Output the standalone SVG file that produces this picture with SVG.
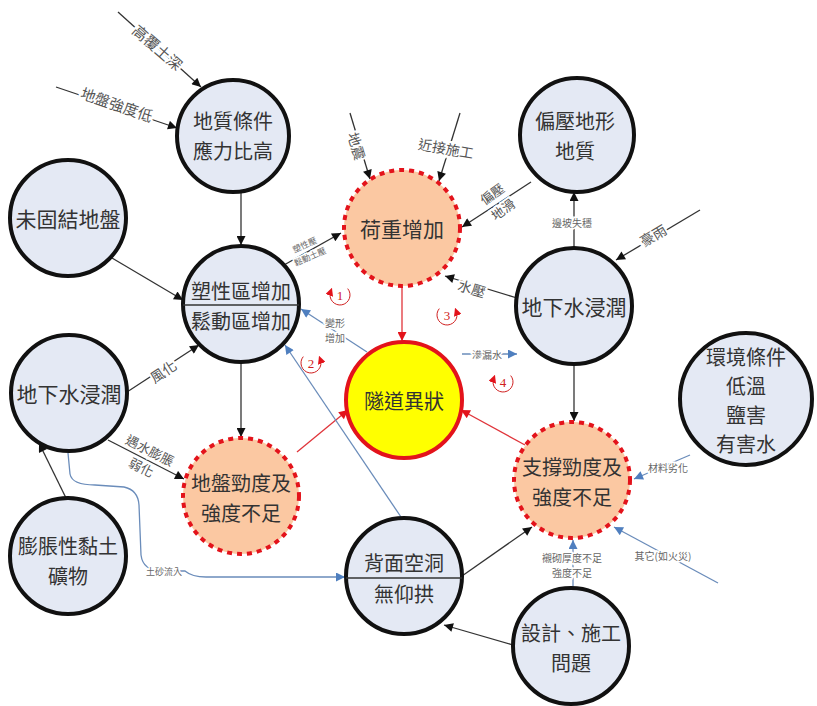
<svg xmlns="http://www.w3.org/2000/svg" width="817" height="706" viewBox="0 0 817 706">
<defs>
<style>
.n{fill:#e4e9f4;stroke:#111;stroke-width:4}
.o{fill:#fbc8a2;stroke:#e3131b;stroke-width:4;stroke-dasharray:5 5}
.y{fill:#ffff00;stroke:#e3131b;stroke-width:4}
.t{font-family:"Noto Sans CJK TC","Noto Sans CJK SC",sans-serif;font-size:21px;fill:#333;text-anchor:middle;dominant-baseline:central}
.t2{font-size:20px}
.l{font-family:"Noto Sans CJK TC","Noto Sans CJK SC",sans-serif;font-size:14px;fill:#555;text-anchor:middle;dominant-baseline:central;stroke:#fff;stroke-width:4;paint-order:stroke}
.s{font-family:"Noto Sans CJK TC","Noto Sans CJK SC",sans-serif;font-size:10px;fill:#666;text-anchor:middle;dominant-baseline:central;stroke:#fff;stroke-width:3;paint-order:stroke}
.k{stroke:#333;stroke-width:1.3;fill:none;marker-end:url(#ab)}
.b{stroke:#6a8cba;stroke-width:1.3;fill:none;marker-end:url(#abl)}
.r{stroke:#e0343a;stroke-width:1.3;fill:none;marker-end:url(#ar)}
.num{font-family:"Liberation Serif",serif;font-size:13px;fill:#d02020;text-anchor:middle;dominant-baseline:central}
.arc{stroke:#d02020;stroke-width:1;fill:none;marker-end:url(#as)}
</style>
<marker id="ab" viewBox="0 0 10 10" refX="10" refY="5" markerWidth="11" markerHeight="9" markerUnits="userSpaceOnUse" orient="auto"><path d="M0,0 L10,5 L0,10 z" fill="#111"/></marker>
<marker id="abl" viewBox="0 0 10 10" refX="10" refY="5" markerWidth="11" markerHeight="9" markerUnits="userSpaceOnUse" orient="auto"><path d="M0,0 L10,5 L0,10 z" fill="#4f7fbf"/></marker>
<marker id="ar" viewBox="0 0 10 10" refX="10" refY="5" markerWidth="11" markerHeight="9" markerUnits="userSpaceOnUse" orient="auto"><path d="M0,0 L10,5 L0,10 z" fill="#e3131b"/></marker>
<marker id="as" viewBox="0 0 10 10" refX="5" refY="5" markerWidth="8" markerHeight="8" markerUnits="userSpaceOnUse" orient="auto"><path d="M0,0 L10,5 L0,10 z" fill="#e3131b"/></marker>
</defs>
<rect width="817" height="706" fill="#fff"/>

<g id="connectors">
<line class="k" x1="118" y1="12" x2="201" y2="87"/>
<line class="k" x1="56" y1="87" x2="177" y2="128"/>
<line class="k" x1="241" y1="192" x2="241" y2="245"/>
<line class="k" x1="112" y1="258" x2="183" y2="300"/>
<line class="k" x1="350" y1="113" x2="370" y2="179"/>
<line class="k" x1="460" y1="113" x2="439" y2="181"/>
<line class="k" x1="531" y1="182" x2="462" y2="227"/>
<line class="k" x1="284" y1="265" x2="341" y2="233"/>
<line class="r" x1="402" y1="287" x2="402" y2="341"/>
<line class="k" x1="517" y1="298" x2="445" y2="276"/>
<line class="k" x1="574" y1="248" x2="574" y2="192"/>
<line class="k" x1="700" y1="210" x2="616" y2="260"/>
<line class="b" x1="462" y1="354" x2="517" y2="354"/>
<line class="b" x1="367" y1="352" x2="301" y2="309"/>
<line class="k" x1="241" y1="362" x2="241" y2="437"/>
<line class="r" x1="297" y1="452" x2="348" y2="410"/>
<line class="r" x1="525" y1="445" x2="461" y2="410"/>
<line class="k" x1="574" y1="364" x2="574" y2="421"/>
<line class="k" x1="127" y1="392" x2="199" y2="345"/>
<line class="k" x1="108" y1="440" x2="184" y2="479"/>
<path class="b" d="M68,453 L70,474 Q72,485 95,485 L124,487 Q138,490 139,505 L141,555 Q143,571 162,571 L185,571 Q192,577 206,577 L345,577"/>
<line class="b" x1="401" y1="517" x2="285" y2="345"/>
<line class="k" x1="66" y1="498" x2="39" y2="443"/>
<line class="k" x1="462" y1="576" x2="532" y2="527"/>
<line class="k" x1="513" y1="645" x2="444" y2="625"/>
<line class="b" x1="573" y1="588" x2="573" y2="540"/>
<line class="b" x1="690" y1="455" x2="634" y2="479"/>
<line class="b" x1="718" y1="583" x2="614" y2="527"/>

<text class="l" transform="translate(158,47) rotate(41)" style="font-size:15px">高覆土深</text>
<text class="l" transform="translate(117,104) rotate(19)" style="font-size:15px">地盤強度低</text>
<text class="l" transform="translate(357,146) rotate(73)">地震</text>
<text class="l" transform="translate(446,148) rotate(10)">近接施工</text>
<text class="l" transform="translate(497,201) rotate(-36)" style="font-size:13px"><tspan x="0" y="-9.5">偏壓</tspan><tspan x="0" y="9.5">地滑</tspan></text>
<text class="s" transform="translate(307,250) rotate(-24)" style="font-size:8.5px"><tspan x="0" y="-6.5">塑性壓</tspan><tspan x="0" y="6.5">鬆動土壓</tspan></text>
<text class="l" transform="translate(472,288) rotate(17)">水壓</text>
<text class="s" x="572" y="222">邊坡失穩</text>
<text class="l" transform="translate(653,235) rotate(-31)">豪雨</text>
<text class="s" x="487" y="354">滲漏水</text>
<text class="s"><tspan x="335" y="322">變形</tspan><tspan x="335" y="337">增加</tspan></text>
<text class="l" transform="translate(163,371) rotate(-33)">風化</text>
<text class="l" transform="translate(146,458) rotate(27)" style="font-size:13px"><tspan x="0" y="-9.5">遇水膨脹</tspan><tspan x="0" y="9.5">弱化</tspan></text>
<text class="s" x="164" y="571" style="font-size:9px">土砂流入</text>
<text class="s" x="668" y="467">材料劣化</text>
<text class="s" x="572" y="557">襯砌厚度不足</text>
<text class="s" x="572" y="572">強度不足</text>
<text class="s" x="663" y="555">其它(如火災)</text>
</g>

<g id="marks">
<text class="num" x="340" y="295">1</text>
<path class="arc" d="M347.7,288.6 A10,10 0 1 1 330.6,291.6"/>
<text class="num" x="311" y="363">2</text>
<path class="arc" d="M303.3,356.6 A10,10 0 1 0 320.4,359.6"/>
<text class="num" x="447" y="315">3</text>
<path class="arc" d="M439.3,308.6 A10,10 0 1 0 456.4,311.6"/>
<text class="num" x="503" y="382">4</text>
<path class="arc" d="M510.7,375.6 A10,10 0 1 1 493.6,378.6"/>
</g>

<g id="n1"><circle class="n" cx="233" cy="136" r="56"/><text class="t t2" x="233" y="120">地質條件</text><text class="t t2" x="233" y="150">應力比高</text></g>
<g id="n2"><circle class="n" cx="68" cy="218" r="58"/><text class="t" x="68" y="218">未固結地盤</text></g>
<g id="n3"><circle class="n" cx="241" cy="304" r="58"/><line x1="183" y1="305" x2="299" y2="305" stroke="#333" stroke-width="1.5"/><text class="t t2" x="241" y="290">塑性區增加</text><text class="t t2" x="241" y="320">鬆動區增加</text></g>
<g id="n4"><circle class="o" cx="402" cy="228" r="58"/><text class="t" x="402" y="228">荷重增加</text></g>
<g id="n5"><circle class="n" cx="577" cy="135" r="57"/><text class="t t2" x="575" y="120">偏壓地形</text><text class="t t2" x="575" y="150">地質</text></g>
<g id="n6"><circle class="n" cx="574" cy="306" r="58"/><text class="t" x="574" y="306">地下水浸潤</text></g>
<g id="n7"><circle class="y" cx="404" cy="400" r="58"/><text class="t" x="404" y="400" style="font-size:20px">隧道異狀</text></g>
<g id="n8"><circle class="n" cx="69" cy="393" r="58"/><text class="t" x="69" y="393">地下水浸潤</text></g>
<g id="n9"><circle class="o" cx="241" cy="496" r="58"/><text class="t t2" x="241" y="482">地盤勁度及</text><text class="t t2" x="241" y="512">強度不足</text></g>
<g id="n10"><circle class="o" cx="572" cy="480" r="58"/><text class="t t2" x="572" y="466">支撐勁度及</text><text class="t t2" x="572" y="496">強度不足</text></g>
<g id="n11"><circle class="n" cx="746" cy="399" r="66"/><text class="t t2" x="746" y="356">環境條件</text><text class="t t2" x="746" y="385">低溫</text><text class="t t2" x="746" y="414">鹽害</text><text class="t t2" x="746" y="443">有害水</text></g>
<g id="n12"><circle class="n" cx="68" cy="556" r="58"/><text class="t t2" x="68" y="545">膨脹性黏土</text><text class="t t2" x="68" y="575">礦物</text></g>
<g id="n13"><circle class="n" cx="404" cy="576" r="58"/><line x1="346" y1="578" x2="462" y2="578" stroke="#333" stroke-width="1.5"/><text class="t t2" x="404" y="562">背面空洞</text><text class="t t2" x="404" y="593">無仰拱</text></g>
<g id="n14"><circle class="n" cx="571" cy="646" r="58"/><text class="t t2" x="571" y="632">設計、施工</text><text class="t t2" x="571" y="662">問題</text></g>
</svg>
